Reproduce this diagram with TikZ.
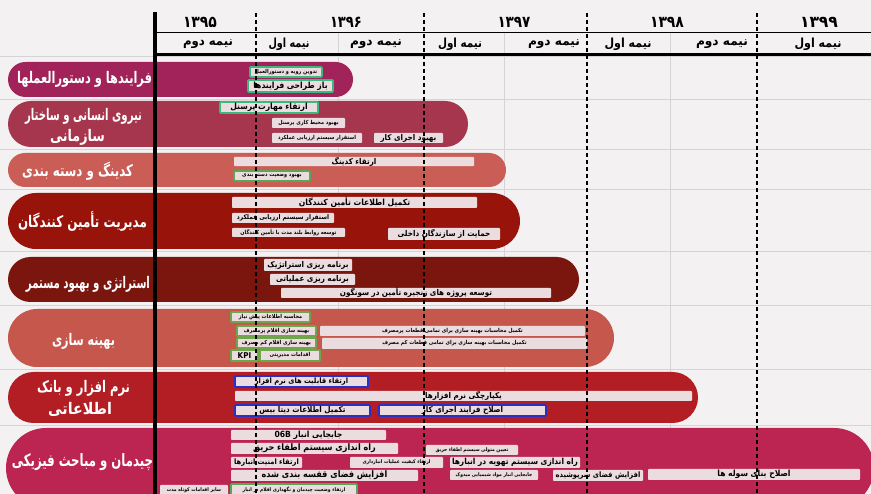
\documentclass[tikz,border=0pt]{standalone}
\usepackage{fontspec}
\setmainfont{DejaVu Sans}
\newfontfamily\fa[Script=Arabic]{DejaVu Sans}
\TeXXeTstate=1
\definecolor{bgc}{HTML}{F3F1F2}
\definecolor{gridc}{HTML}{D6D3D4}
\definecolor{barc}{HTML}{EBDCE0}
\definecolor{rowA}{HTML}{A2235A}
\definecolor{rowB}{HTML}{A6364E}
\definecolor{rowC}{HTML}{CA5D56}
\definecolor{rowD}{HTML}{98130A}
\definecolor{rowE}{HTML}{7B160F}
\definecolor{rowF}{HTML}{C6574D}
\definecolor{rowG}{HTML}{B21E23}
\definecolor{rowH}{HTML}{BC2452}
\definecolor{tealc}{HTML}{3BB87E}
\definecolor{greenc}{HTML}{56A853}
\definecolor{olivec}{HTML}{6FA64C}
\definecolor{bluec}{HTML}{2830CC}
\newsavebox\fitbox
\newdimen\fitw
% max width, font size, text (text carries its own \beginR ... \endR)
\newcommand\fitfa[3]{\fitw=\dimexpr #1\relax\sbox\fitbox{\fa\bfseries\fontsize{#2}{#2}\selectfont\scalebox{0.9}[1]{#3}}\ifdim\wd\fitbox>\fitw\resizebox{\fitw}{!}{\usebox\fitbox}\else\usebox\fitbox\fi}
% exact width, font size, text: only the width is scaled
\newcommand\widefa[3]{\sbox\fitbox{\fa\bfseries\fontsize{#2}{#2}\selectfont #3}\resizebox{#1}{\height}{\usebox\fitbox}}
% name, x1, y1, x2, y2, style, size, text
\newcommand\gb[8]{\node[barbase,#6,minimum width={#4-#2},minimum height={#5-#3}] (#1) at ({(#2+#4)/2},{(#3+#5)/2}) {\fitfa{#4pt-#2pt-4pt}{#7}{#8}};}
\tikzset{
  barbase/.style={rectangle,fill=barc,inner sep=0pt,rounded corners=0.8pt,text=black},
  plain/.style={draw=none},
  tealb/.style={draw=tealc,line width=1.8pt},
  greenb/.style={draw=greenc,line width=1.8pt},
  oliveb/.style={draw=olivec,line width=1.8pt},
  blueb/.style={draw=bluec,line width=1.8pt},
  lab/.style={text=white,inner sep=0pt},
  hdr/.style={text=black,inner sep=0pt},
  dashln/.style={black,line width=1.6pt,dash pattern=on 4pt off 3pt},
  gridln/.style={gridc,line width=0.6pt}
}
\begin{document}
\begin{tikzpicture}[x=1pt,y=-1pt]
\useasboundingbox (0,0) rectangle (871,494);
\fill[bgc] (0,0) rectangle (871,494);
\begin{scope}
\clip (0,0) rectangle (871,494);
% grid
\foreach \yy in {56,99,149,189,251,305,369,425}{\draw[gridln] (0,\yy) -- (871,\yy);}
\foreach \xx in {338,504,670}{\draw[gridln] (\xx,33) -- (\xx,494);}
% pills
\fill[rowA,rounded corners=17.5pt] (8,62) rectangle (353,97);
\fill[rowB,rounded corners=23pt] (8,101) rectangle (468,147);
\fill[rowC,rounded corners=17pt] (8,153) rectangle (506,187);
\fill[rowD,rounded corners=28pt] (8,193) rectangle (520,249);
\fill[rowE,rounded corners=22.5pt] (8,257) rectangle (579,302);
\fill[rowF,rounded corners=29pt] (8,309) rectangle (614,367);
\fill[rowG,rounded corners=25.5pt] (8,372) rectangle (698,423);
\fill[rowH,rounded corners=40pt] (6,428) rectangle (874,508);
% row labels
\node[lab] (l1) at (84.5,79) {\widefa{135pt}{16}{\beginR فرایندها و دستورالعملها\endR}};
\node[lab] (l2a) at (83.5,116) {\widefa{117pt}{16}{\beginR نیروی انسانی و ساختار\endR}};
\node[lab] (l2b) at (77.5,137) {\widefa{55pt}{16}{\beginR سازمانی\endR}};
\node[lab] (l3) at (77.5,171) {\widefa{111pt}{16}{\beginR کدینگ و دسته بندی\endR}};
\node[lab] (l4) at (82.5,221.5) {\widefa{129pt}{16}{\beginR مدیریت تأمین کنندگان\endR}};
\node[lab] (l5) at (88,284.5) {\widefa{124pt}{16}{\beginR استراتژی و بهبود مستمر\endR}};
\node[lab] (l6) at (83.5,341) {\widefa{63pt}{16}{\beginR بهینه سازی\endR}};
\node[lab] (l7a) at (83.5,388.5) {\widefa{93pt}{16}{\beginR نرم افزار و بانک\endR}};
\node[lab] (l7b) at (80,409) {\widefa{64pt}{16}{\beginR اطلاعاتی\endR}};
\node[lab] (l8) at (82.5,462.5) {\widefa{141pt}{17}{\beginR چیدمان و مباحث فیزیکی\endR}};
% row 1
\gb{b11}{250}{67}{322}{77}{tealb}{5.5}{\beginR تدوین رویه و دستورالعمل\endR}
\gb{b12}{248}{80}{333}{92}{tealb}{8.5}{\beginR باز طراحی فرایندها\endR}
% row 2
\gb{b21}{220}{102}{318}{113}{tealb}{8.5}{\beginR ارتقاء مهارت پرسنل\endR}
\gb{b22}{272}{118}{345}{128}{plain}{5.5}{\beginR بهبود محیط کاری پرسنل\endR}
\gb{b23}{272}{133}{362}{143}{plain}{5.5}{\beginR استقرار سیستم ارزیابی عملکرد\endR}
\gb{b24}{374}{133}{443}{143}{plain}{8}{\beginR بهبود اجرای کار\endR}
% row 3
\gb{b31}{234}{157}{474}{166}{plain}{8}{\beginR ارتقاء کدینگ\endR}
\gb{b32}{234}{171}{310}{181}{greenb}{5.5}{\beginR بهبود وضعیت دسته بندی\endR}
% row 4
\gb{b41}{232}{197}{477}{208}{plain}{8.5}{\beginR تکمیل اطلاعات تأمین کنندگان\endR}
\gb{b42}{232}{213}{334}{223}{plain}{6.5}{\beginR استقرار سیستم ارزیابی عملکرد\endR}
\gb{b43}{232}{228}{345}{237}{plain}{5.5}{\beginR توسعه روابط بلند مدت با تأمین کنندگان\endR}
\gb{b44}{388}{228}{500}{240}{plain}{8}{\beginR حمایت از سازندگان داخلی\endR}
% row 5
\gb{b51}{264}{259}{352}{271}{plain}{8}{\beginR برنامه ریزی استراتژیک\endR}
\gb{b52}{270}{274}{355}{285}{plain}{8}{\beginR برنامه ریزی عملیاتی\endR}
\gb{b53}{281}{288}{551}{298}{plain}{8}{\beginR توسعه پروژه های زنجیره تأمین در سونگون\endR}
% row 6
\gb{b61}{231}{312}{310}{322}{oliveb}{5.5}{\beginR محاسبه اطلاعات پیش نیاز\endR}
\gb{b62}{237}{326}{316}{336}{oliveb}{5.5}{\beginR بهینه سازی اقلام پرمصرف\endR}
\gb{b63}{320}{326}{585}{336}{plain}{5.5}{\beginR تکمیل محاسبات بهینه سازی برای تمامی قطعات پرمصرف\endR}
\gb{b64}{237}{338}{316}{348}{oliveb}{5.5}{\beginR بهینه سازی اقلام کم مصرف\endR}
\gb{b65}{322}{338}{587}{349}{plain}{5.5}{\beginR تکمیل محاسبات بهینه سازی برای تمامی قطعات کم مصرف\endR}
\gb{b66}{231}{350}{258}{361}{oliveb}{8}{KPI}
\gb{b67}{260}{350}{320}{361}{oliveb}{5.5}{\beginR اقدامات مدیریتی\endR}
% row 7
\gb{b71}{235}{376}{368}{387}{blueb}{7.5}{\beginR ارتقاء قابلیت های نرم افزار\endR}
\gb{b72}{235}{391}{692}{401}{plain}{8}{\beginR یکپارچگی نرم افزارها\endR}
\gb{b73}{235}{405}{370}{416}{blueb}{8}{\beginR تکمیل اطلاعات دیتا بیس\endR}
\gb{b74}{379}{405}{546}{416}{blueb}{8}{\beginR اصلاح فرایند اجرای کار\endR}
% row 8
\gb{b81}{231}{430}{386}{440}{plain}{8.5}{\beginR جابجایی انبار \beginL 06B\endL\endR}
\gb{b82}{231}{443}{398}{454}{plain}{9}{\beginR راه اندازی سیستم اطفاء حریق\endR}
\gb{b83}{426}{445}{518}{455}{plain}{5}{\beginR تعیین متولی سیستم اطفاء حریق\endR}
\gb{b84}{231}{457}{302}{468}{plain}{7.5}{\beginR ارتقاء امنیت انبارها\endR}
\gb{b85}{350}{457}{443}{468}{plain}{5}{\beginR ارتقاء کیفیت عملیات انبارداری\endR}
\gb{b86}{450}{457}{580}{468}{plain}{9}{\beginR راه اندازی سیستم تهویه در انبارها\endR}
\gb{b87}{231}{470}{418}{481}{plain}{9}{\beginR افزایش فضای قفسه بندی شده\endR}
\gb{b88}{450}{470}{538}{480}{plain}{5}{\beginR جابجایی انبار مواد شیمیایی میدوک\endR}
\gb{b89}{553}{470}{643}{481}{plain}{7.5}{\beginR افزایش فضای سرپوشیده\endR}
\gb{b810}{648}{469}{860}{480}{plain}{8.5}{\beginR اصلاح بنای سوله ها\endR}
\gb{b811}{160}{485}{228}{495}{plain}{5}{\beginR سایر اقدامات کوتاه مدت\endR}
\gb{b812}{231}{484}{357}{496}{greenb}{5}{\beginR ارتقاء وضعیت چیدمان و نگهداری اقلام در انبار\endR}
% header lines
\draw[black,line width=1.5pt] (155,32.5) -- (871,32.5);
\draw[black,line width=3pt] (155,55) -- (871,55);
\foreach \xx in {256,424,587,757}{\draw[dashln] (\xx,13) -- (\xx,494);}
\draw[black,line width=3.2pt] (155,12) -- (155,494);
\end{scope}
% header texts
\node[hdr] (y95) at (200,22.5) {\widefa{34pt}{16}{۱۳۹۵}};
\node[hdr] (y96) at (346,22.5) {\widefa{32pt}{16}{۱۳۹۶}};
\node[hdr] (y97) at (514,22.5) {\widefa{33pt}{16}{۱۳۹۷}};
\node[hdr] (y98) at (667,22.5) {\widefa{34pt}{16}{۱۳۹۸}};
\node[hdr] (y99) at (819,22.5) {\widefa{38pt}{16}{۱۳۹۹}};
\node[hdr] (h1) at (208,44) {\widefa{50pt}{12.5}{\beginR نیمه دوم\endR}};
\node[hdr] (h2) at (289,44) {\widefa{41pt}{12.5}{\beginR نیمه اول\endR}};
\node[hdr] (h3) at (376,44) {\widefa{52pt}{12.5}{\beginR نیمه دوم\endR}};
\node[hdr] (h4) at (460,44) {\widefa{44pt}{12.5}{\beginR نیمه اول\endR}};
\node[hdr] (h5) at (554,44) {\widefa{52pt}{12.5}{\beginR نیمه دوم\endR}};
\node[hdr] (h6) at (628,44) {\widefa{47pt}{12.5}{\beginR نیمه اول\endR}};
\node[hdr] (h7) at (722,44) {\widefa{52pt}{12.5}{\beginR نیمه دوم\endR}};
\node[hdr] (h8) at (818,44) {\widefa{47pt}{12.5}{\beginR نیمه اول\endR}};
\end{tikzpicture}
\end{document}
